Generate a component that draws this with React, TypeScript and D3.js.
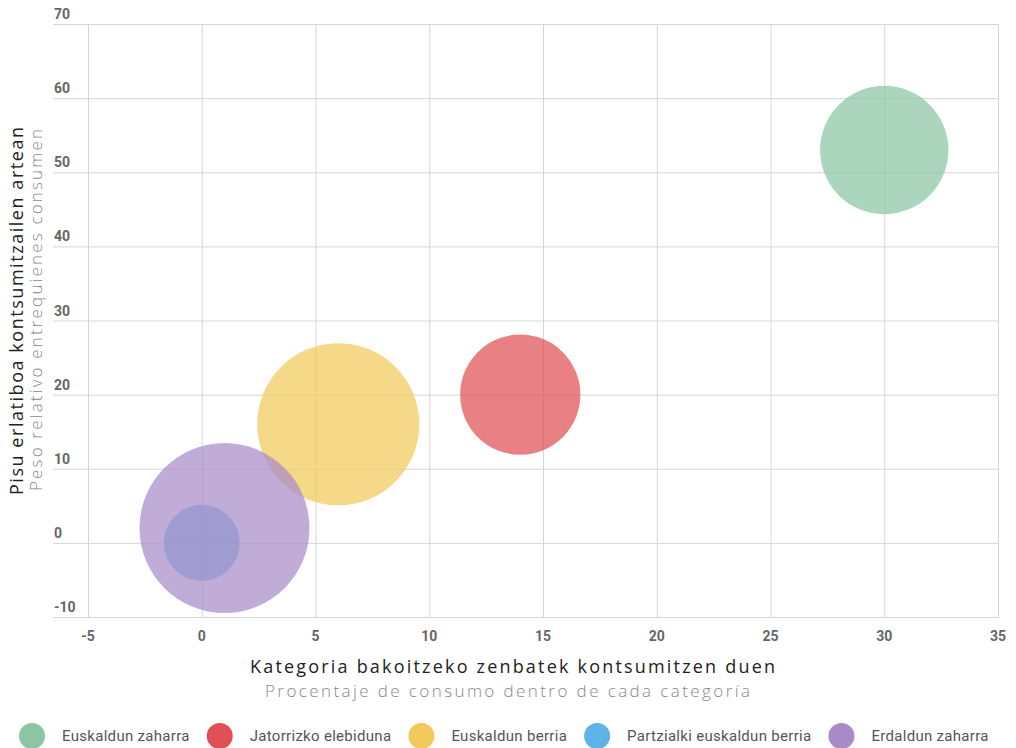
import React, { useEffect, useRef } from 'react';
import * as d3 from 'd3';

const groups = ['Euskaldun zaharra', 'Jatorrizko elebiduna', 'Euskaldun berria', 'Partzialki euskaldun berria', 'Erdaldun zaharra'];
const consumo = [30, 14, 6, 0, 1];
const pesoRelativo = [53, 20, 16, 0, 2];
const bubbleSize = [57, 50, 91, 20, 100];
const colors = ['#8cc5a3', '#e05055', '#f2c95c', '#5bb4e5', '#a98bc7'];
const xTicks = [-5, 0, 5, 10, 15, 20, 25, 30, 35];
const yTicks = [-10, 0, 10, 20, 30, 40, 50, 60, 70];

const width = 1016;
const height = 748;

const drawChart = (node: SVGSVGElement) => {
  const svg = d3.select(node);
  svg.selectAll('*').remove();

  const x = d3.scaleLinear().domain([-5, 35]).range([88, 998]);
  const y = d3.scaleLinear().domain([-10, 70]).range([617, 24]);
  const r = d3.scaleSqrt().domain([0, d3.max(bubbleSize)]).range([0, 85]);

  const grid = svg.append('g');
  grid.selectAll('.hgrid')
    .data(yTicks)
    .enter()
    .append('line')
    .attr('x1', 53)
    .attr('x2', 999)
    .attr('y1', d => y(d) + 0.5)
    .attr('y2', d => y(d) + 0.5)
    .attr('stroke', '#d6d6d6');
  grid.selectAll('.vgrid')
    .data(xTicks)
    .enter()
    .append('line')
    .attr('x1', d => x(d) + 0.5)
    .attr('x2', d => x(d) + 0.5)
    .attr('y1', y(70))
    .attr('y2', y(-10))
    .attr('stroke', '#d6d6d6');

  svg.append('g').selectAll('text')
    .data(yTicks)
    .enter()
    .append('text')
    .attr('x', 54)
    .attr('y', d => y(d) - 5)
    .attr('font-family', 'Roboto')
    .attr('font-weight', 700)
    .attr('font-size', 14)
    .attr('fill', '#666')
    .text(d => d);

  svg.append('g').selectAll('text')
    .data(xTicks)
    .enter()
    .append('text')
    .attr('x', d => x(d))
    .attr('y', 641)
    .attr('text-anchor', 'middle')
    .attr('font-family', 'Roboto')
    .attr('font-weight', 700)
    .attr('font-size', 14)
    .attr('fill', '#666')
    .text(d => d);

  svg.append('g').selectAll('circle')
    .data(groups)
    .enter()
    .append('circle')
    .attr('cx', (d, i) => x(consumo[i]))
    .attr('cy', (d, i) => y(pesoRelativo[i]))
    .attr('r', (d, i) => r(bubbleSize[i]))
    .attr('fill', (d, i) => colors[i])
    .attr('fill-opacity', 0.72);

  // axis titles
  svg.append('text')
    .attr('x', 250)
    .attr('y', 673)
    .attr('font-family', 'Open Sans')
    .attr('font-size', 18)
    .attr('fill', '#222')
    .attr('textLength', 525)
    .attr('lengthAdjust', 'spacing')
    .text('Kategoria bakoitzeko zenbatek kontsumitzen duen');
  svg.append('text')
    .attr('x', 265)
    .attr('y', 697)
    .attr('font-family', 'Open Sans')
    .attr('font-weight', 300)
    .attr('font-size', 17)
    .attr('fill', '#888')
    .attr('textLength', 485)
    .attr('lengthAdjust', 'spacing')
    .text('Procentaje de consumo dentro de cada categoría');

  svg.append('text')
    .attr('transform', 'translate(23,495) rotate(-90)')
    .attr('font-family', 'Open Sans')
    .attr('font-size', 18)
    .attr('fill', '#222')
    .attr('textLength', 368)
    .attr('lengthAdjust', 'spacing')
    .text('Pisu erlatiboa kontsumitzailen artean');
  svg.append('text')
    .attr('transform', 'translate(42,491) rotate(-90)')
    .attr('font-family', 'Open Sans')
    .attr('font-weight', 300)
    .attr('font-size', 17)
    .attr('fill', '#888')
    .attr('textLength', 362)
    .attr('lengthAdjust', 'spacing')
    .text('Peso relativo entrequienes consumen');

  // legend
  const legend = svg.append('g');
  let lx = 19;
  groups.forEach((g, i) => {
    legend.append('circle')
      .attr('cx', lx + 13)
      .attr('cy', 736)
      .attr('r', 13)
      .attr('fill', colors[i]);
    const t = legend.append('text')
      .attr('x', lx + 43)
      .attr('y', 741)
      .attr('font-family', 'Roboto')
      .attr('font-size', 15)
      .attr('letter-spacing', 0.3)
      .attr('fill', '#555')
      .text(g);
    const w = (t.node() as SVGTextElement).getComputedTextLength();
    lx += 43 + w + 17;
  });
};

const App = () => {
  const ref = useRef<SVGSVGElement>(null);
  useEffect(() => {
    if (ref.current) drawChart(ref.current);
  }, []);
  return (
    <svg ref={ref} width={width} height={height} style={{ position: 'absolute', left: 0, top: 0, background: '#fff' }} />
  );
};

export default App;
